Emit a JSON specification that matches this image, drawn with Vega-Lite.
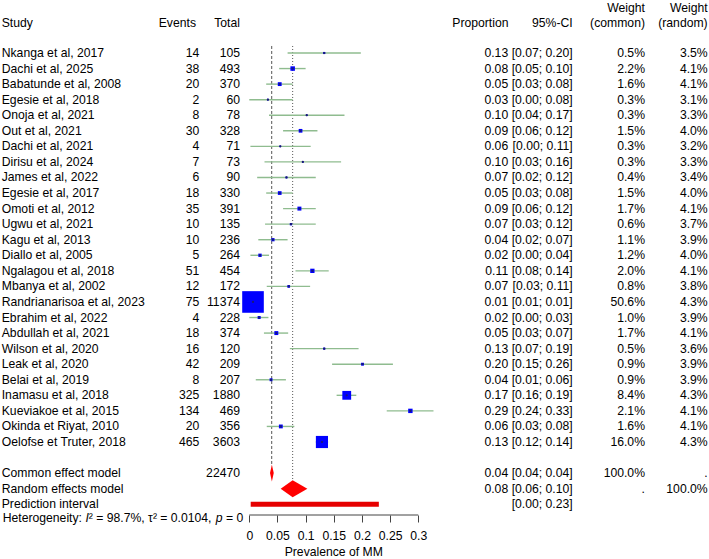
{
  "$schema": "https://vega.github.io/schema/vega-lite/v6.json",
  "width": 709,
  "height": 515,
  "padding": 0,
  "background": "white",
  "config": {
    "view": {"stroke": null},
    "text": {"font": "Liberation Sans", "fontSize": 12.2, "color": "black", "baseline": "middle"}
  },
  "datasets": {
    "studies": [
      {"row": 1, "study": "Nkanga et al, 2017", "events": "14", "total": "105", "prop": "0.13", "ci": "[0.07; 0.20]", "wc": "0.5%", "wr": "3.5%", "wcn": 0.5, "est": 0.133, "lo": 0.068, "hi": 0.198},
      {"row": 2, "study": "Dachi et al, 2025", "events": "38", "total": "493", "prop": "0.08", "ci": "[0.05; 0.10]", "wc": "2.2%", "wr": "4.1%", "wcn": 2.2, "est": 0.077, "lo": 0.053, "hi": 0.1},
      {"row": 3, "study": "Babatunde et al, 2008", "events": "20", "total": "370", "prop": "0.05", "ci": "[0.03; 0.08]", "wc": "1.6%", "wr": "4.1%", "wcn": 1.6, "est": 0.054, "lo": 0.03, "hi": 0.077},
      {"row": 4, "study": "Egesie et al, 2018", "events": "2", "total": "60", "prop": "0.03", "ci": "[0.00; 0.08]", "wc": "0.3%", "wr": "3.1%", "wcn": 0.3, "est": 0.033, "lo": 0.0, "hi": 0.077},
      {"row": 5, "study": "Onoja et al, 2021", "events": "8", "total": "78", "prop": "0.10", "ci": "[0.04; 0.17]", "wc": "0.3%", "wr": "3.3%", "wcn": 0.3, "est": 0.102, "lo": 0.035, "hi": 0.169},
      {"row": 6, "study": "Out et al, 2021", "events": "30", "total": "328", "prop": "0.09", "ci": "[0.06; 0.12]", "wc": "1.5%", "wr": "4.0%", "wcn": 1.5, "est": 0.091, "lo": 0.06, "hi": 0.121},
      {"row": 7, "study": "Dachi et al, 2021", "events": "4", "total": "71", "prop": "0.06", "ci": "[0.00; 0.11]", "wc": "0.3%", "wr": "3.2%", "wcn": 0.3, "est": 0.055, "lo": 0.002, "hi": 0.109},
      {"row": 8, "study": "Dirisu et al, 2024", "events": "7", "total": "73", "prop": "0.10", "ci": "[0.03; 0.16]", "wc": "0.3%", "wr": "3.3%", "wcn": 0.3, "est": 0.095, "lo": 0.027, "hi": 0.163},
      {"row": 9, "study": "James et al, 2022", "events": "6", "total": "90", "prop": "0.07", "ci": "[0.02; 0.12]", "wc": "0.4%", "wr": "3.4%", "wcn": 0.4, "est": 0.066, "lo": 0.014, "hi": 0.118},
      {"row": 10, "study": "Egesie et al, 2017", "events": "18", "total": "330", "prop": "0.05", "ci": "[0.03; 0.08]", "wc": "1.5%", "wr": "4.0%", "wcn": 1.5, "est": 0.054, "lo": 0.03, "hi": 0.077},
      {"row": 11, "study": "Omoti et al, 2012", "events": "35", "total": "391", "prop": "0.09", "ci": "[0.06; 0.12]", "wc": "1.7%", "wr": "4.1%", "wcn": 1.7, "est": 0.089, "lo": 0.06, "hi": 0.118},
      {"row": 12, "study": "Ugwu et al, 2021", "events": "10", "total": "135", "prop": "0.07", "ci": "[0.03; 0.12]", "wc": "0.6%", "wr": "3.7%", "wcn": 0.6, "est": 0.074, "lo": 0.028, "hi": 0.118},
      {"row": 13, "study": "Kagu et al, 2013", "events": "10", "total": "236", "prop": "0.04", "ci": "[0.02; 0.07]", "wc": "1.1%", "wr": "3.9%", "wcn": 1.1, "est": 0.042, "lo": 0.016, "hi": 0.068},
      {"row": 14, "study": "Diallo et al, 2005", "events": "5", "total": "264", "prop": "0.02", "ci": "[0.00; 0.04]", "wc": "1.2%", "wr": "4.0%", "wcn": 1.2, "est": 0.019, "lo": 0.002, "hi": 0.035},
      {"row": 15, "study": "Ngalagou et al, 2018", "events": "51", "total": "454", "prop": "0.11", "ci": "[0.08; 0.14]", "wc": "2.0%", "wr": "4.1%", "wcn": 2.0, "est": 0.112, "lo": 0.082, "hi": 0.141},
      {"row": 16, "study": "Mbanya et al, 2002", "events": "12", "total": "172", "prop": "0.07", "ci": "[0.03; 0.11]", "wc": "0.8%", "wr": "3.8%", "wcn": 0.8, "est": 0.07, "lo": 0.031, "hi": 0.108},
      {"row": 17, "study": "Randrianarisoa et al, 2023", "events": "75", "total": "11374", "prop": "0.01", "ci": "[0.01; 0.01]", "wc": "50.6%", "wr": "4.3%", "wcn": 50.6, "est": 0.0066, "lo": 0.0052, "hi": 0.0083},
      {"row": 18, "study": "Ebrahim et al, 2022", "events": "4", "total": "228", "prop": "0.02", "ci": "[0.00; 0.03]", "wc": "1.0%", "wr": "3.9%", "wcn": 1.0, "est": 0.0175, "lo": 0.0, "hi": 0.034},
      {"row": 19, "study": "Abdullah et al, 2021", "events": "18", "total": "374", "prop": "0.05", "ci": "[0.03; 0.07]", "wc": "1.7%", "wr": "4.1%", "wcn": 1.7, "est": 0.048, "lo": 0.026, "hi": 0.069},
      {"row": 20, "study": "Wilson et al, 2020", "events": "16", "total": "120", "prop": "0.13", "ci": "[0.07; 0.19]", "wc": "0.5%", "wr": "3.6%", "wcn": 0.5, "est": 0.133, "lo": 0.072, "hi": 0.194},
      {"row": 21, "study": "Leak et al, 2020", "events": "42", "total": "209", "prop": "0.20", "ci": "[0.15; 0.26]", "wc": "0.9%", "wr": "3.9%", "wcn": 0.9, "est": 0.201, "lo": 0.147, "hi": 0.255},
      {"row": 22, "study": "Belai et al, 2019", "events": "8", "total": "207", "prop": "0.04", "ci": "[0.01; 0.06]", "wc": "0.9%", "wr": "3.9%", "wcn": 0.9, "est": 0.0386, "lo": 0.0115, "hi": 0.065},
      {"row": 23, "study": "Inamasu et al, 2018", "events": "325", "total": "1880", "prop": "0.17", "ci": "[0.16; 0.19]", "wc": "8.4%", "wr": "4.3%", "wcn": 8.4, "est": 0.173, "lo": 0.155, "hi": 0.19},
      {"row": 24, "study": "Kueviakoe et al, 2015", "events": "134", "total": "469", "prop": "0.29", "ci": "[0.24; 0.33]", "wc": "2.1%", "wr": "4.1%", "wcn": 2.1, "est": 0.286, "lo": 0.244, "hi": 0.327},
      {"row": 25, "study": "Okinda et Riyat, 2010", "events": "20", "total": "356", "prop": "0.06", "ci": "[0.03; 0.08]", "wc": "1.6%", "wr": "4.1%", "wcn": 1.6, "est": 0.056, "lo": 0.031, "hi": 0.08},
      {"row": 26, "study": "Oelofse et Truter, 2018", "events": "465", "total": "3603", "prop": "0.13", "ci": "[0.12; 0.14]", "wc": "16.0%", "wr": "4.3%", "wcn": 16.0, "est": 0.129, "lo": 0.118, "hi": 0.14}
    ],
    "summary": [
      {"row": 28, "study": "Common effect model", "total": "22470", "prop": "0.04", "ci": "[0.04; 0.04]", "wc": "100.0%", "wr": "."},
      {"row": 29, "study": "Random effects model", "total": "", "prop": "0.08", "ci": "[0.06; 0.10]", "wc": ".", "wr": "100.0%"},
      {"row": 30, "study": "Prediction interval", "total": "", "prop": "", "ci": "[0.00; 0.23]", "wc": "", "wr": ""}
    ],
    "diamonds": [
      {"model": "Common effect model", "row": 28, "lower": 0.0368, "est": 0.0401, "upper": 0.0434},
      {"model": "Random effects model", "row": 29, "lower": 0.0557, "est": 0.077, "upper": 0.1031}
    ],
    "prediction": [
      {"row": 30, "lower": 0.0025, "upper": 0.23}
    ],
    "refs": [
      {"model": "common", "x": 0.0398, "from": 0.55, "to": 27.55},
      {"model": "random", "x": 0.077, "from": 0.55, "to": 28.45}
    ],
    "headers": [
      {"h": "Events", "pos": -0.09462, "line": -0.947},
      {"h": "Total", "pos": -0.01651, "line": -0.947},
      {"h": "Proportion", "pos": 0.46015, "line": -0.947},
      {"h": "95%-CI", "pos": 0.57412, "line": -0.947},
      {"h": "Weight", "pos": 0.70247, "line": -1.92},
      {"h": "(common)", "pos": 0.70247, "line": -0.947},
      {"h": "Weight", "pos": 0.81378, "line": -1.92},
      {"h": "(random)", "pos": 0.81378, "line": -0.947}
    ],
    "heterogeneity": [
      {"piece": 1, "part": "Heterogeneity: "},
      {"piece": 2, "part": "I"},
      {"piece": 3, "part": "\u00b2 = 98.7%, \u03c4\u00b2 = 0.0104,"},
      {"piece": 4, "part": "p"},
      {"piece": 5, "part": "= 0"}
    ]
  },
  "layer": [
    {
      "data": {"name": "refs"},
      "transform": [{"filter": "datum.model == 'common'"}],
      "mark": {"type": "rule", "color": "#555555", "strokeWidth": 1, "strokeDash": [3, 2]},
      "encoding": {
        "x": {"field": "x", "type": "quantitative", "scale": {"domain": [-0.44257, 0.81613], "nice": false, "zero": false},
          "axis": {"values": [0, 0.05, 0.1, 0.15, 0.2, 0.25, 0.3], "format": "~g", "domain": false, "grid": false, "title": null, "tickSize": 7, "tickColor": "#444444", "labelFont": "Liberation Sans", "labelFontSize": 12.2, "labelColor": "black", "labelPadding": 7, "labelOverlap": false, "labelFlush": false}},
        "y": {"field": "from", "type": "quantitative", "scale": {"domain": [-2.4062, 30.6915], "reverse": true, "nice": false, "zero": false}, "axis": null},
        "y2": {"field": "to"}
      }
    },
    {
      "data": {"name": "refs"},
      "transform": [{"filter": "datum.model == 'random'"}],
      "mark": {"type": "rule", "color": "#555555", "strokeWidth": 1, "strokeDash": [1, 2]},
      "encoding": {
        "x": {"field": "x", "type": "quantitative"},
        "y": {"field": "from", "type": "quantitative"},
        "y2": {"field": "to"}
      }
    },
    {
      "data": {"name": "studies"},
      "mark": {"type": "rule", "color": "#8fbc8f", "strokeWidth": 1.4},
      "encoding": {
        "x": {"field": "lo", "type": "quantitative"},
        "x2": {"field": "hi"},
        "y": {"field": "row", "type": "quantitative"}
      }
    },
    {
      "data": {"name": "studies"},
      "mark": {"type": "square", "color": "#0000ff", "opacity": 1, "filled": true},
      "encoding": {
        "x": {"field": "est", "type": "quantitative"},
        "y": {"field": "row", "type": "quantitative"},
        "size": {"field": "wcn", "type": "quantitative", "scale": {"domain": [0, 50.6], "range": [0, 467], "zero": true}, "legend": null}
      }
    },
    {
      "data": {"name": "studies"},
      "mark": {"type": "circle", "color": "#1a1a70", "opacity": 1, "size": 5},
      "encoding": {
        "x": {"field": "est", "type": "quantitative"},
        "y": {"field": "row", "type": "quantitative"}
      }
    },
    {
      "data": {"name": "diamonds"},
      "transform": [
        {"fold": ["lower", "est", "upper"], "as": ["vertex", "xv"]},
        {"calculate": "datum.row - (datum.vertex == 'est' ? 0.546 : 0)", "as": "top"},
        {"calculate": "datum.row + (datum.vertex == 'est' ? 0.546 : 0)", "as": "bottom"}
      ],
      "mark": {"type": "area", "color": "#ff0000", "opacity": 1, "orient": "vertical", "interpolate": "linear"},
      "encoding": {
        "x": {"field": "xv", "type": "quantitative"},
        "y": {"field": "top", "type": "quantitative"},
        "y2": {"field": "bottom"},
        "detail": {"field": "model", "type": "nominal"}
      }
    },
    {
      "data": {"name": "prediction"},
      "mark": {"type": "rule", "color": "#e60000", "strokeWidth": 5, "strokeCap": "butt"},
      "encoding": {
        "x": {"field": "lower", "type": "quantitative"},
        "x2": {"field": "upper"},
        "y": {"field": "row", "type": "quantitative"}
      }
    },
    {
      "data": {"values": [{"a": 0, "b": 0.3}]},
      "mark": {"type": "rule", "color": "#444444", "strokeWidth": 1},
      "encoding": {
        "x": {"field": "a", "type": "quantitative"},
        "x2": {"field": "b"},
        "y": {"datum": 30.6915}
      }
    },
    {
      "data": {"values": [{"label": "Prevalence of MM"}]},
      "mark": {"type": "text", "align": "center"},
      "encoding": {"text": {"field": "label"}, "x": {"datum": 0.15}, "y": {"datum": 33.05}}
    },
    {
      "data": {"name": "heterogeneity"},
      "transform": [{"filter": "datum.piece == 1"}],
      "mark": {"type": "text", "align": "left"},
      "encoding": {"text": {"field": "part"}, "x": {"datum": -0.4378}, "y": {"datum": 30.91}}
    },
    {
      "data": {"name": "heterogeneity"},
      "transform": [{"filter": "datum.piece == 2"}],
      "mark": {"type": "text", "align": "left", "fontStyle": "italic", "dx": 82.7},
      "encoding": {"text": {"field": "part"}, "x": {"datum": -0.4378}, "y": {"datum": 30.91}}
    },
    {
      "data": {"name": "heterogeneity"},
      "transform": [{"filter": "datum.piece == 3"}],
      "mark": {"type": "text", "align": "left", "dx": 86.1},
      "encoding": {"text": {"field": "part"}, "x": {"datum": -0.4378}, "y": {"datum": 30.91}}
    },
    {
      "data": {"name": "heterogeneity"},
      "transform": [{"filter": "datum.piece == 4"}],
      "mark": {"type": "text", "align": "left", "fontStyle": "italic", "dx": 213.0},
      "encoding": {"text": {"field": "part"}, "x": {"datum": -0.4378}, "y": {"datum": 30.91}}
    },
    {
      "data": {"name": "heterogeneity"},
      "transform": [{"filter": "datum.piece == 5"}],
      "mark": {"type": "text", "align": "left", "dx": 223.2},
      "encoding": {"text": {"field": "part"}, "x": {"datum": -0.4378}, "y": {"datum": 30.91}}
    },
    {
      "data": {"name": "studies"},
      "mark": {"type": "text", "align": "left"},
      "encoding": {"text": {"field": "study"}, "x": {"datum": -0.4395}, "y": {"field": "row", "type": "quantitative"}}
    },
    {
      "data": {"name": "summary"},
      "mark": {"type": "text", "align": "left"},
      "encoding": {"text": {"field": "study"}, "x": {"datum": -0.4395}, "y": {"field": "row", "type": "quantitative"}}
    },
    {
      "data": {"name": "studies"},
      "mark": {"type": "text", "align": "right"},
      "encoding": {"text": {"field": "events"}, "x": {"datum": -0.08876}, "y": {"field": "row", "type": "quantitative"}}
    },
    {
      "data": {"name": "studies"},
      "mark": {"type": "text", "align": "right"},
      "encoding": {"text": {"field": "total"}, "x": {"datum": -0.01651}, "y": {"field": "row", "type": "quantitative"}}
    },
    {
      "data": {"name": "summary"},
      "mark": {"type": "text", "align": "right"},
      "encoding": {"text": {"field": "total"}, "x": {"datum": -0.01651}, "y": {"field": "row", "type": "quantitative"}}
    },
    {
      "data": {"name": "studies"},
      "mark": {"type": "text", "align": "right"},
      "encoding": {"text": {"field": "prop"}, "x": {"datum": 0.4596}, "y": {"field": "row", "type": "quantitative"}}
    },
    {
      "data": {"name": "summary"},
      "mark": {"type": "text", "align": "right"},
      "encoding": {"text": {"field": "prop"}, "x": {"datum": 0.4596}, "y": {"field": "row", "type": "quantitative"}}
    },
    {
      "data": {"name": "studies"},
      "mark": {"type": "text", "align": "right"},
      "encoding": {"text": {"field": "ci"}, "x": {"datum": 0.57412}, "y": {"field": "row", "type": "quantitative"}}
    },
    {
      "data": {"name": "summary"},
      "mark": {"type": "text", "align": "right"},
      "encoding": {"text": {"field": "ci"}, "x": {"datum": 0.57412}, "y": {"field": "row", "type": "quantitative"}}
    },
    {
      "data": {"name": "studies"},
      "mark": {"type": "text", "align": "right"},
      "encoding": {"text": {"field": "wc"}, "x": {"datum": 0.70247}, "y": {"field": "row", "type": "quantitative"}}
    },
    {
      "data": {"name": "summary"},
      "mark": {"type": "text", "align": "right"},
      "encoding": {"text": {"field": "wc"}, "x": {"datum": 0.70247}, "y": {"field": "row", "type": "quantitative"}}
    },
    {
      "data": {"name": "studies"},
      "mark": {"type": "text", "align": "right"},
      "encoding": {"text": {"field": "wr"}, "x": {"datum": 0.81378}, "y": {"field": "row", "type": "quantitative"}}
    },
    {
      "data": {"name": "summary"},
      "mark": {"type": "text", "align": "right"},
      "encoding": {"text": {"field": "wr"}, "x": {"datum": 0.81378}, "y": {"field": "row", "type": "quantitative"}}
    },
    {
      "data": {"values": [{"h": "Study"}]},
      "mark": {"type": "text", "align": "left"},
      "encoding": {"text": {"field": "h"}, "x": {"datum": -0.4395}, "y": {"datum": -0.947}}
    },
    {
      "data": {"name": "headers"},
      "mark": {"type": "text", "align": "right"},
      "encoding": {"text": {"field": "h"}, "x": {"field": "pos", "type": "quantitative"}, "y": {"field": "line", "type": "quantitative"}}
    }
  ]
}
